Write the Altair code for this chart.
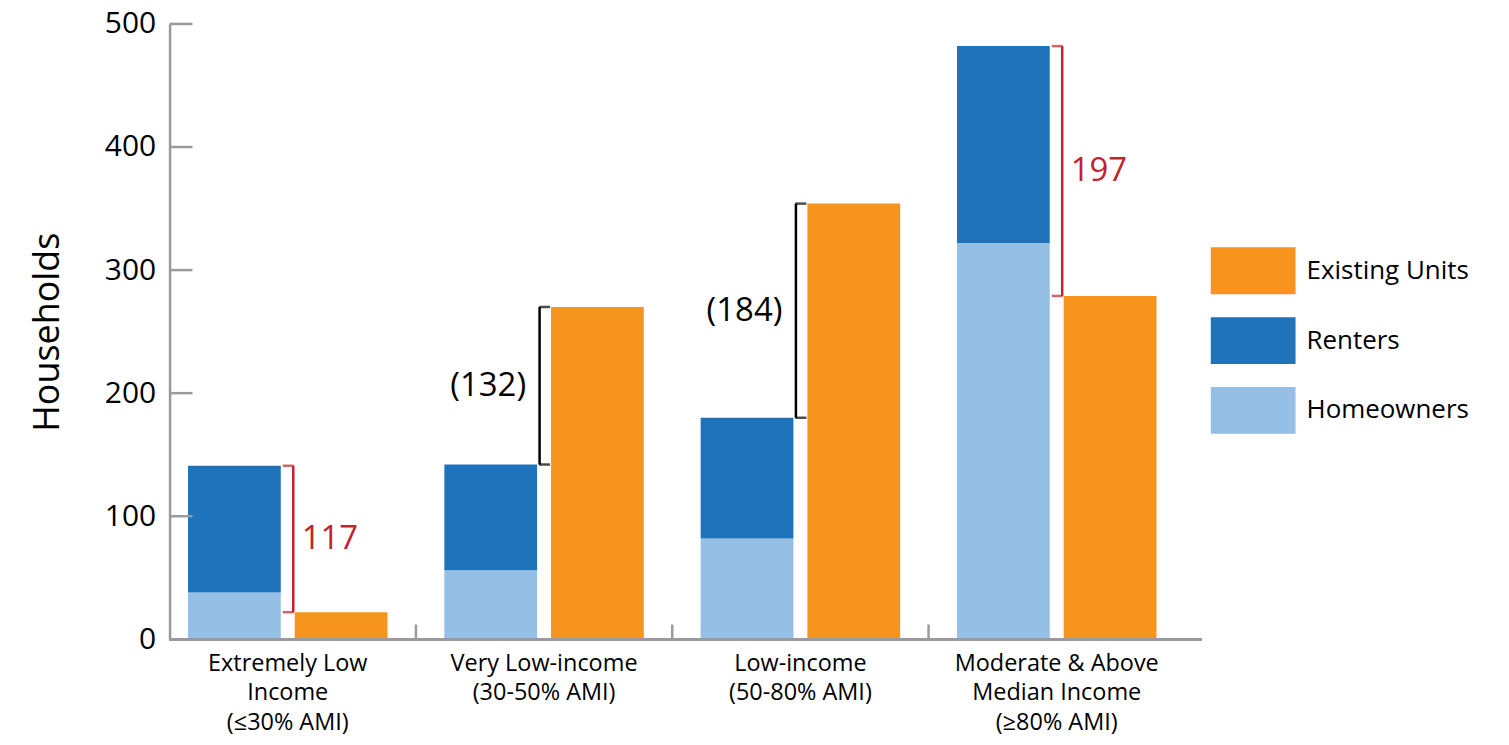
import altair as alt
import pandas as pd

# ---- data ----
categories = [
    "Extremely Low|Income|(≤30% AMI)",
    "Very Low-income|(30-50% AMI)",
    "Low-income|(50-80% AMI)",
    "Moderate & Above|Median Income|(≥80% AMI)",
]
homeowners = [38, 56, 82, 322]
renters = [103, 86, 98, 160]
existing_units = [22, 270, 354, 279]
gap_labels = ["117", "(132)", "(184)", "197"]
y_tick_values = [0, 100, 200, 300, 400, 500]

series_names = ["Existing Units", "Renters", "Homeowners"]
series_colors = ["#F7941D", "#1E73BA", "#95BFE5"]
RED = "#C1222F"
AXIS_GRAY = "#9A9A9E"
FONT = "Open Sans"

# ---- tables ----
rows = []
for i, c in enumerate(categories):
    rows.append({"cat": c, "grp": "need", "series": "Homeowners", "value": homeowners[i], "ord": 0})
    rows.append({"cat": c, "grp": "need", "series": "Renters", "value": renters[i], "ord": 1})
    rows.append({"cat": c, "grp": "supply", "series": "Existing Units", "value": existing_units[i], "ord": 0})
bars_df = pd.DataFrame(rows)

br = []
for i, c in enumerate(categories):
    total = homeowners[i] + renters[i]
    ex = existing_units[i]
    br.append({
        "cat": c,
        "top": max(total, ex),
        "bottom": min(total, ex),
        "mid": (total + ex) / 2,
        "label": gap_labels[i],
        "side": "right" if total > ex else "left",
    })
br_df = pd.DataFrame(br)
ticks_df = pd.DataFrame({"cat": categories[:-1]})
yt_df = pd.DataFrame({"v": [v for v in y_tick_values if v > 0]})

W, H = 1045, 617

xscale = alt.Scale(domain=categories, paddingInner=0, paddingOuter=0.033, align=0)
xaxis = alt.Axis(
    domain=False, ticks=False, labelAngle=0, labelExpr="split(datum.label, '|')",
    labelFontSize=23.5, labelLineHeight=29.5, labelPadding=12, labelColor="black",
    labelFont=FONT, labelLimit=400, title=None,
)
yscale = alt.Scale(domain=[0, 500], nice=False, zero=True)
yaxis = alt.Axis(
    values=y_tick_values, grid=False, ticks=False, offset=-10,
    domainColor=AXIS_GRAY, domainWidth=2.5,
    labelFontSize=30, labelFont=FONT, labelColor="black", labelPadding=14,
    title="Households", titleFontSize=36, titleFont=FONT, titleFontWeight="normal",
    titleColor="black", titlePadding=38,
)


def X(field="cat", **kw):
    return alt.X(f"{field}:N", scale=xscale, axis=xaxis, title=None, **kw)


def Y(field):
    return alt.Y(f"{field}:Q", scale=yscale, axis=yaxis, title="Households")


bars = alt.Chart(bars_df).mark_bar(strokeWidth=0).encode(
    x=X(),
    xOffset=alt.XOffset("grp:N", scale=alt.Scale(domain=["need", "supply"], paddingInner=0.1308, paddingOuter=0.2664)),
    y=alt.Y("value:Q", scale=yscale, axis=yaxis, title="Households", stack="zero"),
    color=alt.Color(
        "series:N",
        scale=alt.Scale(domain=series_names, range=series_colors),
        legend=alt.Legend(
            title=None, orient="none", legendX=1054, legendY=205,
            symbolType="M-1,-0.553L1,-0.553L1,0.553L-1,0.553Z", symbolSize=7225,
            symbolStrokeWidth=0, symbolOpacity=1,
            labelFontSize=26, labelFont=FONT, labelColor="black", labelOffset=11,
            labelLimit=400, rowPadding=3,
        ),
    ),
    order=alt.Order("ord:Q"),
)

baseline = alt.Chart(bars_df).mark_rule(color=AXIS_GRAY, strokeWidth=2.5).encode(
    x=alt.value(10), x2=alt.value(W), y=alt.datum(0, scale=yscale, axis=yaxis, title="Households")
)

yticks = alt.Chart(yt_df).mark_rule(color=AXIS_GRAY, strokeWidth=2.5).encode(
    x=alt.value(10), x2=alt.value(33), y=Y("v")
)

xticks = alt.Chart(ticks_df).mark_rule(color=AXIS_GRAY, strokeWidth=2.5).encode(
    x=X(bandPosition=1), y=alt.datum(0, scale=yscale, axis=yaxis, title="Households"),
    y2=alt.datum(12),
)


def bracket_layers(side, color, vx, capx, tdx, align):
    d = alt.Chart(br_df).transform_filter(alt.datum.side == side)
    v = d.mark_rule(color=color, strokeWidth=2.5, xOffset=vx).encode(x=X(), y=Y("top"), y2="bottom:Q")
    ct = d.mark_tick(color=color, size=11, thickness=2.5, xOffset=capx, orient="horizontal").encode(x=X(), y=Y("top"))
    cb = d.mark_tick(color=color, size=11, thickness=2.5, xOffset=capx, orient="horizontal").encode(x=X(), y=Y("bottom"))
    t = d.mark_text(color=color, fontSize=33, font=FONT, align=align, baseline="middle", dx=tdx).encode(
        x=X(), y=Y("mid"), text="label:N"
    )
    return [v, ct, cb, t]


layers = [bars, baseline, yticks, xticks]
layers += bracket_layers("right", RED, 5.5, 0.5, 14, "left")
layers += bracket_layers("left", "black", -4.5, 0.5, -18, "right")

chart = alt.layer(*layers).properties(
    width=W, height=H,
    padding={"left": 152, "top": 15, "right": 300, "bottom": 103},
    autosize=alt.AutoSizeParams(type="none"),
).configure_view(stroke=None).configure_axis(labelFont=FONT)

chart.save("out.html", embed_options={"renderer": "svg", "actions": False})
